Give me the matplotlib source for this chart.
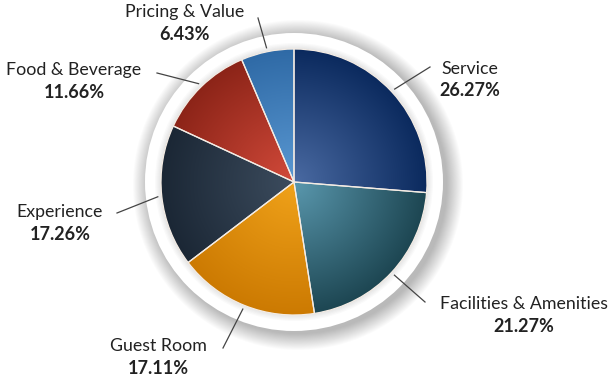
import numpy as np
import matplotlib.pyplot as plt
from matplotlib.patches import Wedge, Circle
from matplotlib.colors import LinearSegmentedColormap

# data (clockwise from 12 o'clock)
categories = ["Service", "Facilities & Amenities", "Guest Room",
              "Experience", "Food & Beverage", "Pricing & Value"]
shares = [26.27, 21.27, 17.11, 17.26, 11.66, 6.43]

# light colour near the centre, dark colour at the rim
inner_colors = ["#4a6aa2", "#5a98ae", "#f0a21a", "#3c4c5e", "#d24a3a", "#5a98d2"]
outer_colors = ["#0b2a5e", "#1d4652", "#cc7a02", "#1b2735", "#8c2418", "#2f6aa6"]

# label layout in pixels (x, y from top): name centre, line end
label_pos = [(470, 69), (524, 304), (158, 346), (60, 212), (74, 70), (185, 12)]
line_end = [(430, 67), (425, 302), (223, 348), (117, 213), (157, 73), (258, 18)]

W, H = 610, 381
fig = plt.figure(figsize=(W / 100, H / 100), dpi=100)
ax = fig.add_axes([0, 0, 1, 1])
ax.set_xlim(0, W)
ax.set_ylim(H, 0)
ax.axis("off")

cx, cy, r = 294, 182, 133
ring = 149

# soft drop shadow round the white rim
for rr in np.linspace(165, ring, 18):
    ax.add_patch(Circle((cx + 4, cy + 3), rr, color="black", alpha=0.014, lw=0, zorder=1))
ax.add_patch(Circle((cx, cy), ring, fc="white", ec="none", zorder=2))
for rr in np.linspace(r + 6, r, 6):
    ax.add_patch(Circle((cx, cy), rr, color="black", alpha=0.02, lw=0, zorder=2))

# radial distance image used for the gradients
yy, xx = np.mgrid[cy - r:cy + r:400j, cx - r:cx + r:400j]
dist = np.clip(np.hypot(xx - cx, yy - cy) / r, 0, 1)

start = 90.0
for i, (name, val) in enumerate(zip(categories, shares)):
    sweep = 360 * val / 100
    t1, t2 = start - sweep, start
    # y axis is inverted, so mirror the angles
    w = Wedge((cx, cy), r, -t2, -t1, fc="none", ec="none")
    ax.add_patch(w)
    cmap = LinearSegmentedColormap.from_list(name, [inner_colors[i], outer_colors[i]])
    im = ax.imshow(dist, cmap=cmap, vmin=0, vmax=1, origin="lower",
                   extent=(cx - r, cx + r, cy - r, cy + r), zorder=3)
    im.set_clip_path(w)
    ax.add_patch(Wedge((cx, cy), r, -t2, -t1, fc="none", ec="#f4ece4", lw=0.9, zorder=4))

    mid = np.deg2rad(start - sweep / 2)
    sx = cx + (r + 4) * np.cos(mid)
    sy = cy - (r + 4) * np.sin(mid)
    ex, ey = line_end[i]
    ax.plot([sx, ex], [sy, ey], color="#444444", lw=0.9, zorder=5)

    lx, ly = label_pos[i]
    ax.text(lx, ly, name, ha="center", va="center", fontsize=12.8,
            family="Lato", color="#222222", zorder=6)
    ax.text(lx, ly + 22, f"{val:.2f}%", ha="center", va="center", fontsize=13,
            family="Lato", weight="bold", color="#222222", zorder=6)
    start -= sweep

ax.set_ylim(H, 0)
fig.savefig("out.png", dpi=100)
